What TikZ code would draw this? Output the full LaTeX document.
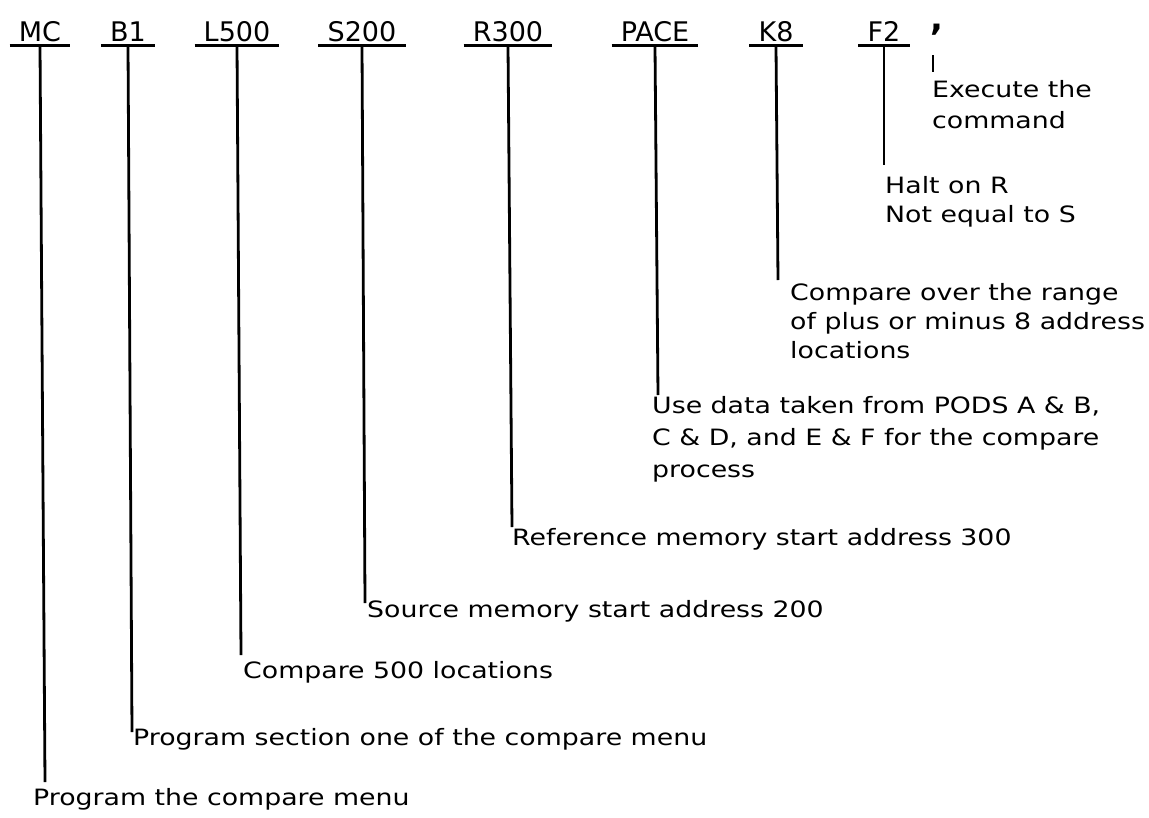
\documentclass[tikz,border=0pt]{standalone}
\usepackage{fontspec}
\setmainfont{DejaVu Sans}
\newfontfamily\codefont{DejaVu Sans}
\newfontfamily\notefont[FakeStretch=1.19]{DejaVu Sans}
\begin{document}
\begin{tikzpicture}[x=1pt,y=-1pt,
  code/.style={font=\codefont\fontsize{27}{30}\selectfont, inner xsep=9pt, inner ysep=0pt, anchor=base},
  note/.style={font=\notefont\fontsize{22.5}{30}\selectfont, inner sep=0pt, anchor=base west, align=left},
  lead/.style={line width=2.8pt},
  uline/.style={line width=2.6pt},
  thinlead/.style={line width=2pt}]
\useasboundingbox (0,0) rectangle (1149,817);

% command codes
\node[code] (mc)   at (40,41)  {MC};
\node[code] (b1)   at (128,41) {B1};
\node[code] (l500) at (237,41) {L500};
\node[code] (s200) at (362,41) {S200};
\node[code] (r300) at (508,41) {R300};
\node[code] (pace) at (655,41) {PACE};
\node[code] (k8)   at (776,41) {K8};
\node[code] (f2)   at (884,41) {F2};
\node[code, inner xsep=0pt, font=\codefont\bfseries\fontsize{34}{36}\selectfont] (comma) at (937,30) {,};

\foreach \n in {mc,b1,l500,s200,r300,pace,k8,f2}
  \draw[uline] ([yshift=-4pt]\n.south west) -- ([yshift=-4pt]\n.south east);

% explanations (base anchor = baseline of the last line)
\node[note] (nmc) at (33,805)  {Program the compare menu};
\node[note] (nb1) at (133,745) {Program section one of the compare menu};
\node[note] (nl)  at (243,678) {Compare 500 locations};
\node[note] (ns)  at (367,617) {Source memory start address 200};
\node[note] (nr)  at (512,545) {Reference memory start address 300};
\node[note, font=\notefont\fontsize{22.5}{32}\selectfont] (np) at (652,477)
  {Use data taken from PODS A \& B,\\C \& D, and E \& F for the compare\\process};
\node[note, font=\notefont\fontsize{22.5}{29}\selectfont] (nk) at (790,358)
  {Compare over the range\\of plus or minus 8 address\\locations};
\node[note, font=\notefont\fontsize{22.5}{29}\selectfont] (nf) at (885,222)
  {Halt on R\\Not equal to S};
\node[note, font=\notefont\fontsize{22.5}{31}\selectfont] (ne) at (932,128)
  {Execute the\\command};

% lead ends
\coordinate (emc) at (45,782);
\coordinate (eb1) at (132,732);
\coordinate (el)  at (241,655);
\coordinate (es)  at (365,603);
\coordinate (er)  at (512,527);
\coordinate (ep)  at (658,395);
\coordinate (ek)  at (778,280);
\coordinate (ef)  at (884,165);
\coordinate (ec)  at (933,72);

\draw[lead] ([yshift=-4pt]mc.south)   -- (emc);
\draw[lead] ([yshift=-4pt]b1.south)   -- (eb1);
\draw[lead] ([yshift=-4pt]l500.south) -- (el);
\draw[lead] ([yshift=-4pt]s200.south) -- (es);
\draw[lead] ([yshift=-4pt]r300.south) -- (er);
\draw[lead] ([yshift=-4pt]pace.south) -- (ep);
\draw[lead] ([yshift=-4pt]k8.south)   -- (ek);
\draw[lead] ([yshift=-4pt]f2.south)   -- (ef);
\draw[thinlead] (comma.south -| ec) ++(0,20) -- (ec);
\end{tikzpicture}
\end{document}
